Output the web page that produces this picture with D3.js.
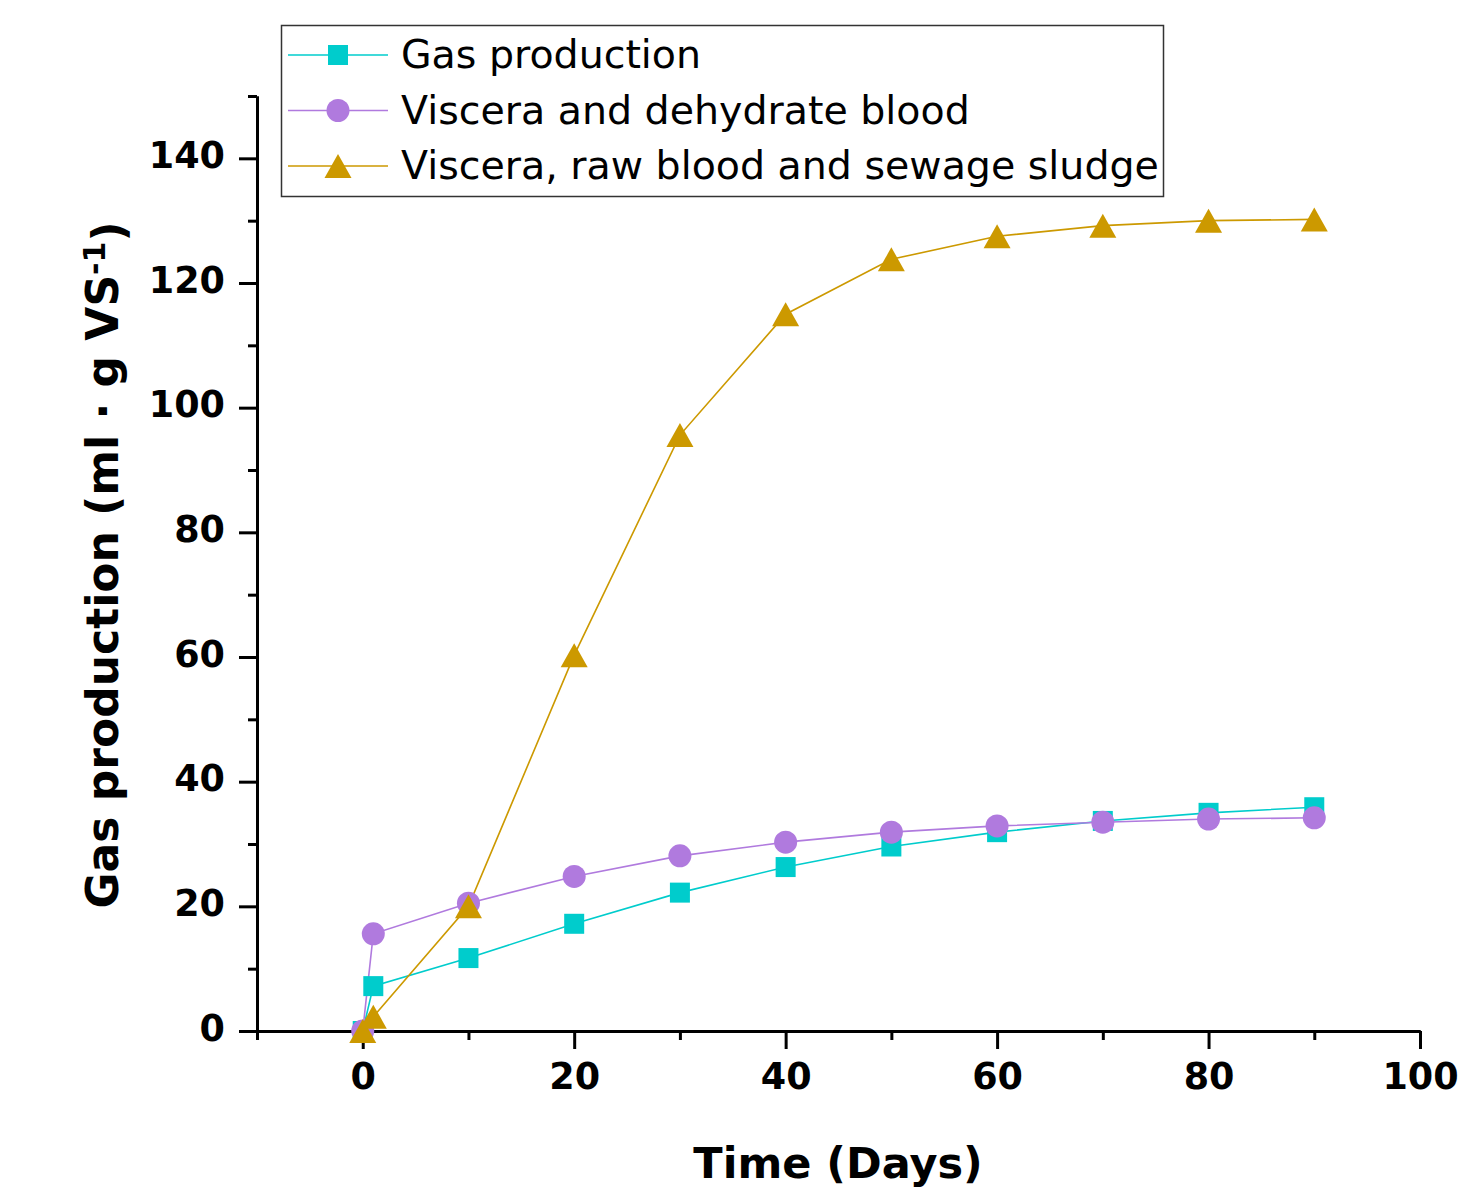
<!DOCTYPE html>
<html>
<head>
<meta charset="utf-8">
<script src="https://cdn.jsdelivr.net/npm/d3@7"></script>
<style>
  body { margin: 0; background: #fff; }
  svg { display: block; }
  .tick text { font-family: "DejaVu Sans", sans-serif; font-weight: bold; }
</style>
</head>
<body>
<svg id="chart" width="1469" height="1188"></svg>
<script>
// data
var days = [0, 1, 10, 20, 30, 40, 50, 60, 70, 80, 90];
var gasProduction = [0, 7.2, 11.7, 17.2, 22.2, 26.3, 29.6, 31.9, 33.7, 35.0, 35.9];
var visceraDehydrated = [0, 15.6, 20.5, 24.8, 28.1, 30.3, 31.9, 32.9, 33.5, 34.0, 34.2];
var visceraRawSludge = [0, 2.3, 20.0, 60.3, 95.6, 115.0, 123.8, 127.5, 129.2, 130.0, 130.2];

var seriesNames = ["Gas production", "Viscera and dehydrate blood", "Viscera, raw blood and sewage sludge"];
var seriesColors = ["#00CCCC", "#B07ADE", "#CC9900"];
var seriesShapes = ["square", "circle", "triangle"];

var xMajor = [0, 20, 40, 60, 80, 100];
var xMinor = [-10, 10, 30, 50, 70, 90];
var yMajor = [0, 20, 40, 60, 80, 100, 120, 140];
var yMinor = [10, 30, 50, 70, 90, 110, 130, 150];

var svg = d3.select("#chart");
var x = d3.scaleLinear().domain([-10, 100]).range([257, 1420]);
var y = d3.scaleLinear().domain([0, 150]).range([1031, 96]);

var series = [gasProduction, visceraDehydrated, visceraRawSludge].map(function(vals, i) {
    return {
	name: seriesNames[i],
	color: seriesColors[i],
	shape: seriesShapes[i],
	points: days.map((d, j) => ({x: d, y: vals[j]}))
    };
});

function drawMarker(sel, shape, color) {
    if (shape == "square") {
	sel.append("rect")
	    .attr("x", -10).attr("y", -10)
	    .attr("width", 20).attr("height", 20)
	    .attr("fill", color);
    } else if (shape == "circle") {
	sel.append("circle").attr("r", 11.5).attr("fill", color);
    } else {
	sel.append("path").attr("d", "M0,-12L13.5,12L-13.5,12Z").attr("fill", color);
    }
}

// axes
var xAxis = d3.axisBottom(x).tickValues(xMajor).tickSize(18).tickSizeOuter(0).tickPadding(14);
var xAxisMinor = d3.axisBottom(x).tickValues(xMinor).tickSize(9).tickSizeOuter(0).tickFormat("");
var yAxis = d3.axisLeft(y).tickValues(yMajor).tickSize(18).tickSizeOuter(0).tickPadding(14);
var yAxisMinor = d3.axisLeft(y).tickValues(yMinor).tickSize(9).tickSizeOuter(0).tickFormat("");

function styleAxis(g) {
    g.selectAll("path, line").attr("stroke", "#000").attr("stroke-width", 3);
    g.selectAll("text").attr("fill", "#000").style("font-size", "36.5px");
}

svg.append("g").attr("transform", "translate(0,1031)").call(xAxisMinor).call(styleAxis);
svg.append("g").attr("transform", "translate(0,1031)").call(xAxis).call(styleAxis)
    .selectAll("text").attr("dy", "0.72em");
svg.append("g").attr("transform", "translate(257,0)").call(yAxisMinor).call(styleAxis);
svg.append("g").attr("transform", "translate(257,0)").call(yAxis).call(styleAxis)
    .selectAll("text").attr("dy", "0.25em");

// axis titles
svg.append("text")
    .attr("x", 838).attr("y", 1178)
    .attr("text-anchor", "middle")
    .style("font-family", "DejaVu Sans").style("font-weight", "bold").style("font-size", "43px")
    .text("Time (Days)");

var yt = svg.append("text")
    .attr("transform", "translate(118,565) rotate(-90)")
    .attr("text-anchor", "middle")
    .style("font-family", "DejaVu Sans").style("font-weight", "bold").style("font-size", "44px");
yt.append("tspan").text("Gas production (ml · g VS");
yt.append("tspan").attr("dy", "-0.45em").style("font-size", "30px").text("-1");
yt.append("tspan").attr("dy", "0.45em").text(")");

// lines and markers
var line = d3.line().x(d => x(d.x)).y(d => y(d.y));
series.forEach(function(s) {
    svg.append("path")
	.datum(s.points)
	.attr("d", line)
	.attr("fill", "none")
	.attr("stroke", s.color)
	.attr("stroke-width", 1.6);
});
series.forEach(function(s) {
    svg.selectAll(null)
	.data(s.points)
	.enter().append("g")
	.attr("transform", d => "translate(" + x(d.x) + "," + y(d.y) + ")")
	.each(function() { drawMarker(d3.select(this), s.shape, s.color); });
});

// legend
var legend = svg.append("g");
legend.append("rect")
    .attr("x", 281.5).attr("y", 25.5)
    .attr("width", 882).attr("height", 171)
    .attr("fill", "#fff").attr("stroke", "#333").attr("stroke-width", 1.5);
series.forEach(function(s, i) {
    var ly = 55 + i * 55.5;
    var row = legend.append("g").attr("transform", "translate(0," + ly + ")");
    row.append("line").attr("x1", 288).attr("x2", 388)
	.attr("stroke", s.color).attr("stroke-width", 1.6);
    drawMarker(row.append("g").attr("transform", "translate(338,0)"), s.shape, s.color);
    row.append("text")
	.attr("x", 401).attr("y", 13)
	.style("font-family", "DejaVu Sans").style("font-size", "39.5px")
	.text(s.name);
});
</script>
</body>
</html>
